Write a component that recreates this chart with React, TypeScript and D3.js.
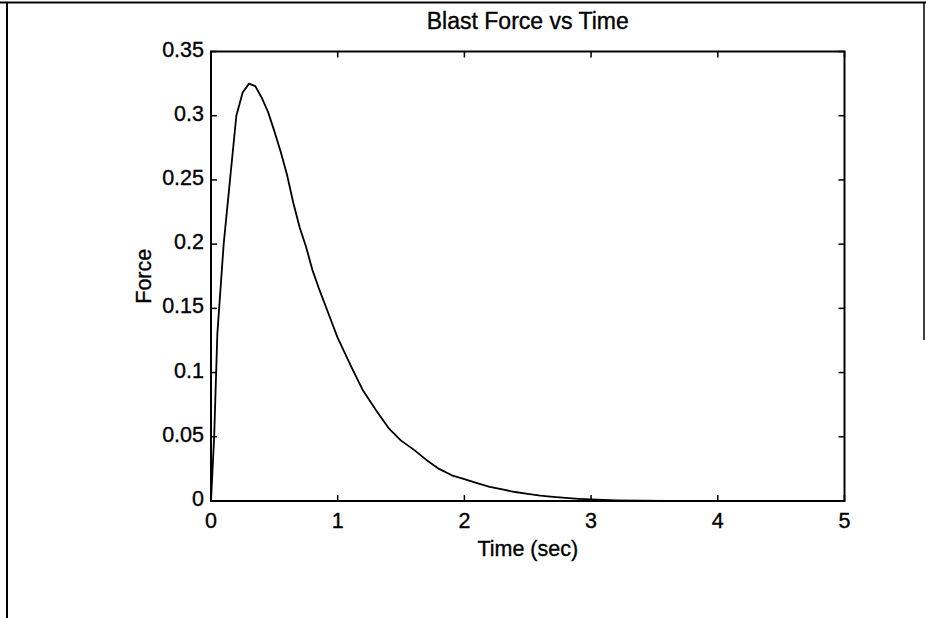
import React from "react";
import * as d3 from "d3";

const timeSec = [0, 0.025, 0.05, 0.1, 0.15, 0.2, 0.25, 0.3, 0.35, 0.4, 0.45, 0.5, 0.55, 0.6, 0.65, 0.7, 0.75, 0.8, 0.85, 0.9, 0.95, 1.0, 1.1, 1.2, 1.3, 1.4, 1.5, 1.6, 1.7, 1.8, 1.9, 2.0, 2.1, 2.2, 2.3, 2.4, 2.5, 2.6, 2.7, 2.8, 2.9, 3.0, 3.2, 3.4, 3.6, 3.8, 4.0, 4.5, 5.0];
const force = [0, 0.05, 0.13, 0.2, 0.25, 0.3, 0.318, 0.325, 0.323, 0.314, 0.303, 0.288, 0.272, 0.254, 0.232, 0.213, 0.198, 0.18, 0.166, 0.153, 0.14, 0.127, 0.106, 0.086, 0.071, 0.057, 0.047, 0.04, 0.032, 0.025, 0.02, 0.017, 0.014, 0.011, 0.009, 0.007, 0.0055, 0.0042, 0.0032, 0.0024, 0.0017, 0.0012, 0.0005, 0.0002, 0.0001, 0, 0, 0, 0];
const xTicks = [0, 1, 2, 3, 4, 5];
const yTicks = [0, 0.05, 0.1, 0.15, 0.2, 0.25, 0.3, 0.35];
const yTickLabels = ["0", "0.05", "0.1", "0.15", "0.2", "0.25", "0.3", "0.35"];

const W = 926;
const H = 618;
const left = 211;
const right = 844.5;
const top = 51.5;
const bottom = 501;
const font = "Arial, 'Liberation Sans', sans-serif";

export default function App() {
  const x = d3.scaleLinear().domain([0, 5]).range([left, right]);
  const y = d3.scaleLinear().domain([0, 0.35]).range([bottom, top]);
  const pts: [number, number][] = timeSec.map((t, i) => [t, force[i]]);
  const line = d3
    .line<[number, number]>()
    .x((d) => x(d[0]))
    .y((d) => y(d[1]));
  const tl = 6;
  const textStyle = { stroke: "#000", strokeWidth: 0.35 };
  return (
    <svg
      width={W}
      height={H}
      style={{ position: "absolute", left: 0, top: 0, background: "#fff" }}
    >
      <rect x={0} y={0} width={W} height={H} fill="#fff" />
      {/* figure frame */}
      <line x1={0} y1={2.5} x2={W} y2={2.5} stroke="#000" strokeWidth={2} />
      <line x1={7} y1={2} x2={7} y2={H} stroke="#000" strokeWidth={2} />
      <line x1={924} y1={2} x2={924} y2={340} stroke="#000" strokeWidth={1.5} />

      {/* title */}
      <text
        x={(left + right) / 2}
        y={29}
        textAnchor="middle"
        fontFamily={font}
        fontSize={23}
        textLength={202}
        lengthAdjust="spacingAndGlyphs"
        style={textStyle}
      >
        Blast Force vs Time
      </text>

      {/* curve */}
      <path d={line(pts) || ""} fill="none" stroke="#000" strokeWidth={1.8} strokeLinejoin="round" />

      {/* axes box */}
      <rect x={left} y={top} width={right - left} height={bottom - top} fill="none" stroke="#000" strokeWidth={2} />

      {/* x ticks */}
      {xTicks.map((t) => (
        <g key={"x" + t}>
          <line x1={x(t)} x2={x(t)} y1={bottom} y2={bottom - tl} stroke="#000" strokeWidth={1.5} />
          <line x1={x(t)} x2={x(t)} y1={top} y2={top + tl} stroke="#000" strokeWidth={1.5} />
          <text x={x(t)} y={bottom + 27} textAnchor="middle" fontFamily={font} fontSize={21.5} style={textStyle}>
            {String(t)}
          </text>
        </g>
      ))}

      {/* y ticks */}
      {yTicks.map((v, i) => (
        <g key={"y" + i}>
          <line x1={left} x2={left + tl} y1={y(v)} y2={y(v)} stroke="#000" strokeWidth={1.5} />
          <line x1={right} x2={right - tl} y1={y(v)} y2={y(v)} stroke="#000" strokeWidth={1.5} />
          <text x={204} y={y(v) + 5} textAnchor="end" fontFamily={font} fontSize={21.5} style={textStyle}>
            {yTickLabels[i]}
          </text>
        </g>
      ))}

      {/* axis labels */}
      <text x={(left + right) / 2} y={556} textAnchor="middle" fontFamily={font} fontSize={21.5} style={textStyle}>
        Time (sec)
      </text>
      <text
        transform={`translate(151, ${(top + bottom) / 2}) rotate(-90)`}
        textAnchor="middle"
        fontFamily={font}
        fontSize={21.5}
        style={textStyle}
      >
        Force
      </text>
    </svg>
  );
}
